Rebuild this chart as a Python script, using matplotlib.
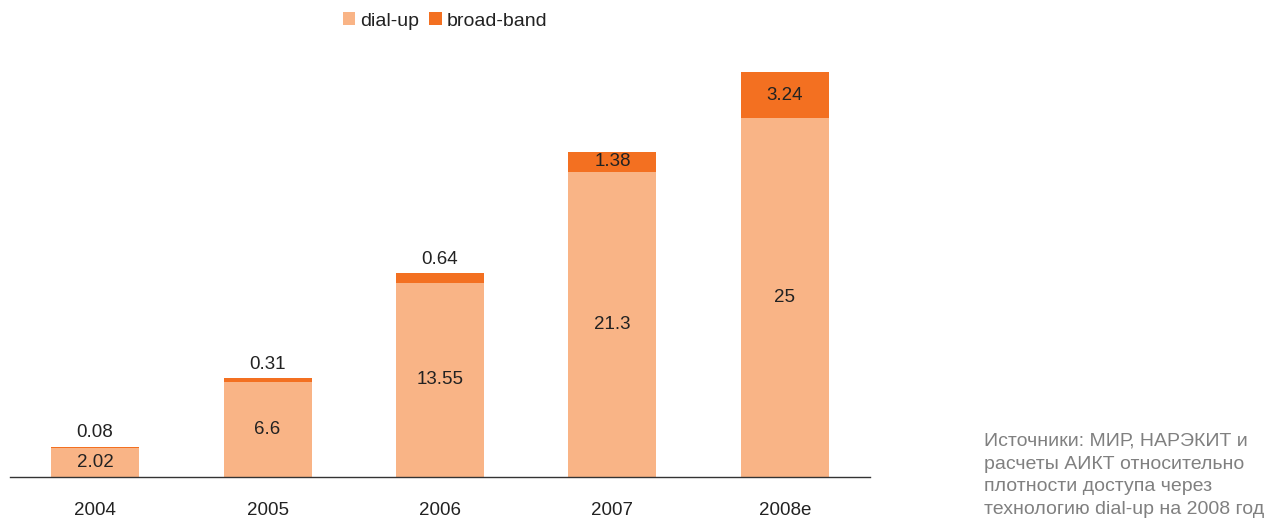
import numpy as np
import matplotlib.pyplot as plt

plt.rcParams['font.family'] = ['Liberation Sans', 'DejaVu Sans']

years = ["2004", "2005", "2006", "2007", "2008e"]
dialup = [2.02, 6.6, 13.55, 21.3, 25]
broadband = [0.08, 0.31, 0.64, 1.38, 3.24]
source_lines = ['Источники: МИР, НАРЭКИТ и', 'расчеты АИКТ относительно',
                'плотности доступа через', 'технологию dial-up на 2008 год']

c_dial = '#F9B486'
c_broad = '#F37021'
txt = '#222222'
fs = 13.5

fig = plt.figure(figsize=(12.71, 5.18), dpi=100)
ax = fig.add_axes([10 / 1271, 41 / 518, 860 / 1271, 437 / 518])

x = np.arange(len(years))
w = 0.51
ax.bar(x, dialup, width=w, color=c_dial, label='dial-up')
ax.bar(x, broadband, width=w, bottom=dialup, color=c_broad, label='broad-band')

ax.set_xlim(-0.493, 4.493)
ax.set_ylim(0, 30.47)

# value labels: dial-up inside, broad-band inside when the segment is tall enough
for i in range(len(years)):
    ax.text(x[i], dialup[i] / 2, f'{dialup[i]:g}', ha='center', va='center',
            fontsize=fs, color=txt)
    top = dialup[i] + broadband[i]
    if broadband[i] > 1:
        ax.text(x[i], dialup[i] + broadband[i] / 2, f'{broadband[i]:g}',
                ha='center', va='center', fontsize=fs, color=txt)
    else:
        ax.annotate(f'{broadband[i]:g}', (x[i], top), xytext=(0, 10),
                    textcoords='offset points', ha='center', va='center',
                    fontsize=fs, color=txt)

ax.set_xticks(x)
ax.set_xticklabels(years, fontsize=fs, color=txt)
ax.tick_params(axis='x', length=0, pad=18)
ax.set_yticks([])
for s in ['top', 'right', 'left']:
    ax.spines[s].set_visible(False)
ax.spines['bottom'].set_color('#333333')
ax.spines['bottom'].set_linewidth(1)

fig.legend(loc='center', bbox_to_anchor=(445 / 1271, 1 - 21 / 518), ncol=2,
           frameon=False, fontsize=14, handlelength=0.65, handleheight=0.65,
           handletextpad=0.25, columnspacing=0.5, labelcolor=txt)

# source note, one line at a time (baselines in pixels from the top)
for k, line in enumerate(source_lines):
    fig.text(984 / 1271, 1 - (446 + 22.7 * k) / 518, line, ha='left',
             va='baseline', fontsize=14, color='#808080')

fig.savefig('out.png', dpi=100)
